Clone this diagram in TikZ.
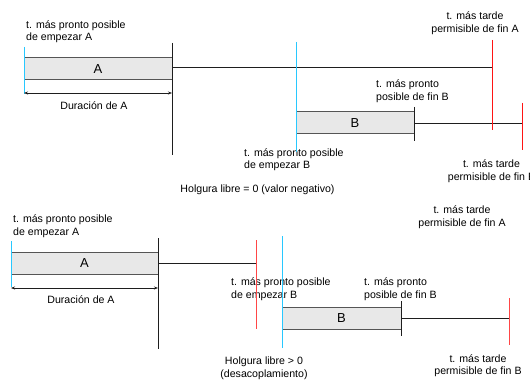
\documentclass[tikz,border=0pt]{standalone}
\usepackage{fontspec}
\setmainfont{Liberation Sans}
\usetikzlibrary{arrows.meta}
\definecolor{cyanline}{RGB}{40,200,255}
\definecolor{redline}{RGB}{255,20,20}
\definecolor{redlineb}{RGB}{255,70,70}
\definecolor{boxfill}{RGB}{232,232,232}
\definecolor{boxdraw}{RGB}{85,85,85}
\definecolor{darkline}{RGB}{30,30,30}
\tikzset{
  x=1pt, y=-1pt,
  taskbox/.style={draw=boxdraw, fill=boxfill, line width=1pt, inner sep=0pt,
    font=\fontsize{13}{15}\selectfont},
  lbl/.style={inner sep=0pt, font=\fontsize{10.6}{12.5}\selectfont},
  lblleft/.style={lbl, align=left, anchor=west},
  lblcenter/.style={lbl, align=center, anchor=center},
  cyanv/.style={draw=cyanline, line width=1pt},
  redv/.style={draw=redline, line width=1pt},
  redvb/.style={draw=redlineb, line width=1pt},
  blackv/.style={draw=darkline, line width=1pt},
  hline/.style={draw=darkline, line width=0.8pt},
  durarrow/.style={draw=darkline, line width=0.6pt,
    {Stealth[length=4pt,width=3pt]}-{Stealth[length=4pt,width=3pt]}},
}
\begin{document}
\begin{tikzpicture}
\useasboundingbox (0,0) rectangle (530,382);

% ---------------- top diagram ----------------
\node[lblleft] (ea1) at (26,31.5) {t. más pronto posible\\de empezar A};
\node[lblcenter] (lfa1) at (475,23) {t. más tarde\\permisible de fin A};
\node[lblleft] (efb1) at (376,91) {t. más pronto\\posible de fin B};
\node[lblleft] (esb1) at (244,159.5) {t. más pronto posible\\de empezar B};
\node[lblcenter] (lfb1) at (491.5,171) {t. más tarde\\permisible de fin B};
\node[lblcenter] (hol1) at (257.5,190) {Holgura libre = 0 (valor negativo)};

\coordinate (cyA1t) at (24,47);   \coordinate (cyA1b) at (24,94);
\coordinate (bkA1t) at (172,43);  \coordinate (bkA1b) at (172,155);
\coordinate (rdA1t) at (492,40);  \coordinate (rdA1b) at (492,130);
\coordinate (cyB1t) at (296,42);  \coordinate (cyB1b) at (296,152);
\coordinate (bkB1t) at (414,107); \coordinate (bkB1b) at (414,141);
\coordinate (rdB1t) at (522,103); \coordinate (rdB1b) at (522,150);
\coordinate (hA1s) at (172,67.5); \coordinate (hA1e) at (492,67.5);
\coordinate (dA1s) at (24,93);    \coordinate (dA1e) at (172,93);

\node[taskbox, minimum width=118pt, minimum height=22pt] (B1) at (355,123) {B};
\node[taskbox, minimum width=148pt, minimum height=22pt] (A1) at (98,69) {A};

\path[hline] (hA1s) -- (hA1e);
\path[hline] (B1.east) -- (B1.east -| rdB1t);
\path[cyanv] (cyA1t) -- (cyA1b);
\path[blackv] (bkA1t) -- (bkA1b);
\path[redv] (rdA1t) -- (rdA1b);
\path[cyanv] (cyB1t) -- (cyB1b);
\path[blackv] (bkB1t) -- (bkB1b);
\path[redv] (rdB1t) -- (rdB1b);
\path[durarrow] (dA1s) -- (dA1e);
\node[lbl] (dur1) at (94,105.5) {Duración de A};

% ---------------- bottom diagram ----------------
\node[lblcenter] (lfa2) at (462,217) {t. más tarde\\permisible de fin A};
\node[lblleft] (ea2) at (13,226) {t. más pronto posible\\de empezar A};
\node[lblleft] (esb2) at (231,289) {t. más pronto posible\\de empezar B};
\node[lblleft] (efb2) at (364,289) {t. más pronto\\posible de fin B};
\node[lblcenter] (lfb2) at (478,365.5) {t. más tarde\\permisible de fin B};
\node[lblcenter] (hol2) at (264,368.5) {Holgura libre > 0\\(desacoplamiento)};

\coordinate (cyA2t) at (11,241);  \coordinate (cyA2b) at (11,287);
\coordinate (bkA2t) at (158,238); \coordinate (bkA2b) at (158,349);
\coordinate (rdA2t) at (256,240); \coordinate (rdA2b) at (256,329);
\coordinate (cyB2t) at (282,236); \coordinate (cyB2b) at (282,348);
\coordinate (bkB2t) at (401,301); \coordinate (bkB2b) at (401,336);
\coordinate (rdB2t) at (509,298); \coordinate (rdB2b) at (509,345);
\coordinate (dA2s) at (11,288);   \coordinate (dA2e) at (158,288);

\node[taskbox, minimum width=147pt, minimum height=22pt] (A2) at (84.5,263) {A};
\node[taskbox, minimum width=119pt, minimum height=22pt] (B2) at (341.5,318) {B};

\path[hline] (A2.east) -- (A2.east -| rdA2t);
\path[hline] (B2.east) -- (B2.east -| rdB2t);
\path[cyanv] (cyA2t) -- (cyA2b);
\path[blackv] (bkA2t) -- (bkA2b);
\path[redvb] (rdA2t) -- (rdA2b);
\path[cyanv] (cyB2t) -- (cyB2b);
\path[blackv] (bkB2t) -- (bkB2b);
\path[redvb] (rdB2t) -- (rdB2b);
\path[durarrow] (dA2s) -- (dA2e);
\node[lbl] (dur2) at (81,300) {Duración de A};
\end{tikzpicture}
\end{document}
